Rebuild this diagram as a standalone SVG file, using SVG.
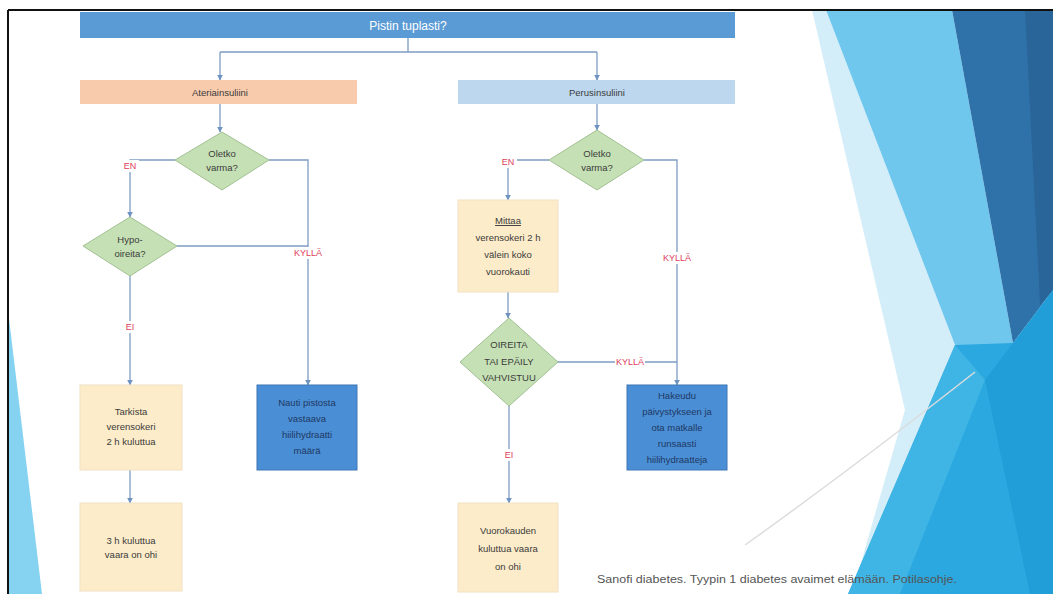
<svg xmlns="http://www.w3.org/2000/svg" width="1053" height="594" viewBox="0 0 1053 594">
<defs>
<marker id="arr" viewBox="0 0 10 10" refX="9" refY="5" markerWidth="6" markerHeight="6" orient="auto" markerUnits="userSpaceOnUse">
<path d="M0,0 L10,5 L0,10 z" fill="#6f93c0"/>
</marker>
<style>
.t{font-family:"Liberation Sans",Arial,sans-serif;font-size:9.5px;fill:#3b3b3b;text-anchor:middle}
.tw{font-family:"Liberation Sans",Arial,sans-serif;font-size:12px;fill:#ffffff;text-anchor:middle}
.tb{font-family:"Liberation Sans",Arial,sans-serif;font-size:9.5px;fill:#1f3864;text-anchor:middle}
.lb{font-family:"Liberation Sans",Arial,sans-serif;font-size:9px;fill:#e0405c;text-anchor:middle}
.y{fill:#fdecc9;stroke:#f0e2c4;stroke-width:1}
.d{fill:#c5e0b4;stroke:#a2c193;stroke-width:1}
.b{fill:#4a8fd5;stroke:#3c76b6;stroke-width:1}
.c{fill:none;stroke:#7d9cc4;stroke-width:1.3}
.a{marker-end:url(#arr)}
.ft{font-family:"Liberation Sans",Arial,sans-serif;font-size:10px;fill:#555555}
</style>
</defs>
<rect x="0" y="0" width="1053" height="594" fill="#ffffff"/>
<g id="background">
<polygon points="8,310 8,594 42,594" fill="#86d2f1"/>
<polygon points="812,10 826,10 955,345 872,594 852,594 905,410" fill="#d3edf9"/>
<polygon points="826,10 952,10 1013,343 985,380 955,345" fill="#70c7ee"/>
<polygon points="952,10 1053,10 1053,290 1013,343" fill="#2f72a9"/>
<polygon points="1025,10 1053,10 1053,290 1040,305" fill="#2a6599"/>
<polygon points="955,345 1013,343 1053,290 1053,594 848,594" fill="#2aa8df"/>
<polygon points="985,380 1013,343 1053,290 1053,594 1030,594" fill="#1e99d3" opacity="0.7"/>
<polygon points="955,345 985,380 900,594 848,594" fill="#45b8e6" opacity="0.8"/>
<path d="M745,545 Q850,470 975,372" fill="none" stroke="#dcdcdc" stroke-width="1.5"/>
<line x1="8" y1="10" x2="1053" y2="10" stroke="#111111" stroke-width="2"/>
<line x1="8" y1="10" x2="8" y2="594" stroke="#111111" stroke-width="2"/>
</g>
<g id="connectors">
<path class="c" d="M408,38 V52 M220,52 H597"/>
<path class="c a" d="M220,52 V80"/>
<path class="c a" d="M597,52 V80"/>
<path class="c a" d="M220,104 V132"/>
<path class="c a" d="M175,160 H130 V217"/>
<path class="c a" d="M269,160 H308 V385"/>
<path class="c" d="M177,246 H308"/>
<path class="c a" d="M130,276 V385"/>
<path class="c a" d="M130,470 V503"/>
<path class="c a" d="M597,104 V130"/>
<path class="c a" d="M549,160 H508 V200"/>
<path class="c a" d="M644,160 H677 V385"/>
<path class="c a" d="M508,292 V318"/>
<path class="c" d="M558,362 H677"/>
<path class="c a" d="M509,406 V503"/>
<rect x="121" y="160" width="18" height="12" fill="#ffffff"/>
<text class="lb" x="130" y="169">EN</text>
<rect x="294" y="247" width="28" height="12" fill="#ffffff"/>
<text class="lb" x="308" y="256">KYLLÄ</text>
<rect x="123" y="321" width="14" height="12" fill="#ffffff"/>
<text class="lb" x="130" y="330">EI</text>
<rect x="499" y="156" width="18" height="12" fill="#ffffff"/>
<text class="lb" x="508" y="165">EN</text>
<rect x="663" y="252" width="28" height="12" fill="#ffffff"/>
<text class="lb" x="677" y="261">KYLLÄ</text>
<rect x="615" y="356" width="30" height="12" fill="#ffffff"/>
<text class="lb" x="630" y="365">KYLLÄ</text>
<rect x="502" y="449" width="14" height="12" fill="#ffffff"/>
<text class="lb" x="509" y="458">EI</text>
</g>
<g id="n-title">
<rect x="80" y="12" width="655" height="26" fill="#5b9bd5"/>
<text class="tw" x="408" y="30">Pistin tuplasti?</text>
</g>
<g id="n-ateria">
<rect x="80" y="80" width="277" height="24" fill="#f8cbad"/>
<text class="t" x="220" y="95.5">Ateriainsuliini</text>
</g>
<g id="n-perus">
<rect x="458" y="80" width="277" height="24" fill="#bdd7ee"/>
<text class="t" x="597" y="95.5">Perusinsuliini</text>
</g>
<g id="n-oletko1">
<polygon class="d" points="222,132 269,160 222,190 175,160"/>
<text class="t" x="222" y="157">Oletko</text>
<text class="t" x="222" y="171">varma?</text>
</g>
<g id="n-hypo">
<polygon class="d" points="130,217 177,246 130,276 83,246"/>
<text class="t" x="130" y="243">Hypo-</text>
<text class="t" x="130" y="257">oireita?</text>
</g>
<g id="n-tarkista">
<rect class="y" x="80" y="385" width="102" height="85"/>
<text class="t" x="131" y="415">Tarkista</text>
<text class="t" x="131" y="430">verensokeri</text>
<text class="t" x="131" y="445">2 h kuluttua</text>
</g>
<g id="n-3h">
<rect class="y" x="80" y="503" width="102" height="88"/>
<text class="t" x="131" y="544">3 h kuluttua</text>
<text class="t" x="131" y="558">vaara on ohi</text>
</g>
<g id="n-nauti">
<rect class="b" x="257" y="385" width="100" height="85"/>
<text class="tb" x="307" y="406">Nauti pistosta</text>
<text class="tb" x="307" y="422">vastaava</text>
<text class="tb" x="307" y="438">hiilihydraatti</text>
<text class="tb" x="307" y="454">määrä</text>
</g>
<g id="n-oletko2">
<polygon class="d" points="597,130 644,160 597,190 549,160"/>
<text class="t" x="597" y="157">Oletko</text>
<text class="t" x="597" y="171">varma?</text>
</g>
<g id="n-mittaa">
<rect class="y" x="458" y="200" width="100" height="92"/>
<text class="t" x="508" y="224" text-decoration="underline">Mittaa</text>
<text class="t" x="508" y="241">verensokeri 2 h</text>
<text class="t" x="508" y="258">välein koko</text>
<text class="t" x="508" y="275">vuorokauti</text>
</g>
<g id="n-oireita">
<polygon class="d" points="509,318 558,362 509,406 460,362"/>
<text class="t" x="509" y="348">OIREITA</text>
<text class="t" x="509" y="365">TAI EPÄILY</text>
<text class="t" x="509" y="381">VAHVISTUU</text>
</g>
<g id="n-hakeudu">
<rect class="b" x="627" y="385" width="100" height="85"/>
<text class="tb" x="677" y="399">Hakeudu</text>
<text class="tb" x="677" y="415">päivystykseen ja</text>
<text class="tb" x="677" y="431">ota matkalle</text>
<text class="tb" x="677" y="447">runsaasti</text>
<text class="tb" x="677" y="463">hiilihydraatteja</text>
</g>
<g id="n-vuorokauden">
<rect class="y" x="458" y="503" width="100" height="89"/>
<text class="t" x="508" y="534">Vuorokauden</text>
<text class="t" x="508" y="552">kuluttua vaara</text>
<text class="t" x="508" y="570">on ohi</text>
</g>
<g id="footer">
<text class="ft" x="597" y="583" textLength="360" lengthAdjust="spacingAndGlyphs">Sanofi diabetes. Tyypin 1 diabetes avaimet elämään. Potilasohje.</text>
</g>
</svg>
